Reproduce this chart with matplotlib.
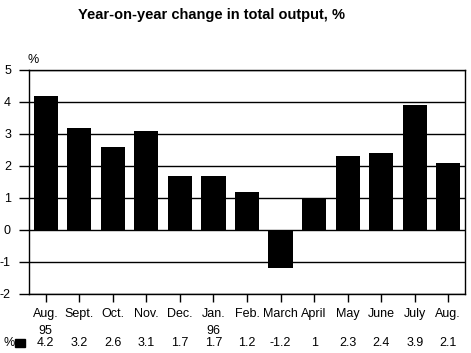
import matplotlib
matplotlib.use("Agg")
import matplotlib.pyplot as plt
import matplotlib.transforms as mtransforms

months = ["Aug.", "Sept.", "Oct.", "Nov.", "Dec.", "Jan.", "Feb.", "March", "April", "May", "June", "July", "Aug."]
years = ["95", "", "", "", "", "96", "", "", "", "", "", "", ""]
values = [4.2, 3.2, 2.6, 3.1, 1.7, 1.7, 1.2, -1.2, 1, 2.3, 2.4, 3.9, 2.1]
value_labels = ["4.2", "3.2", "2.6", "3.1", "1.7", "1.7", "1.2", "-1.2", "1", "2.3", "2.4", "3.9", "2.1"]
yticks = [-2, -1, 0, 1, 2, 3, 4, 5]

plt.rcParams['font.family'] = ['Liberation Sans', 'DejaVu Sans']
fs = 9

fig = plt.figure(figsize=(4.71, 3.53), dpi=100)
ax = fig.add_axes([29/471, 1-294/353, (465-29)/471, (294-70)/353])
x = list(range(len(values)))
ax.bar(x, values, width=0.72, color="black", zorder=3)
ax.set_xlim(-0.5, len(values)-0.5)
ax.set_ylim(-2, 5)
ax.set_yticks(yticks)
ax.set_yticklabels([str(t) for t in yticks], fontsize=fs)
for t in yticks:
    ax.axhline(t, color="black", linewidth=1, zorder=1)
ax.set_xticks(x)
ax.set_xticklabels([m + ("\n" + y if y else "\n ") for m, y in zip(months, years)],
                   fontsize=fs, linespacing=1.55, va="top")
ax.tick_params(axis="x", length=6, width=1, pad=4, direction="out")
ax.tick_params(axis="y", length=7, width=1, pad=6, direction="out")
for s in ax.spines.values():
    s.set_linewidth(1)
    s.set_color("black")

trans = mtransforms.blended_transform_factory(ax.transData, fig.transFigure)
for xi, lab in zip(x, value_labels):
    ax.text(xi, 1-343/353, lab, transform=trans, ha="center", va="center", fontsize=fs)
fig.text(9/471, 1-343/353, "%", ha="center", va="center", fontsize=fs)
fig.patches.append(plt.Rectangle((15/471, 1-347/353), 10/471, 8/353, transform=fig.transFigure,
                                 color="black", figure=fig))
fig.text(33/471, 1-60/353, "%", ha="center", va="center", fontsize=fs)
fig.text(212/471, 1-15/353, "Year-on-year change in total output, %", ha="center", va="center",
         fontsize=10.5, fontweight="bold")

fig.savefig("out.png", dpi=100)
